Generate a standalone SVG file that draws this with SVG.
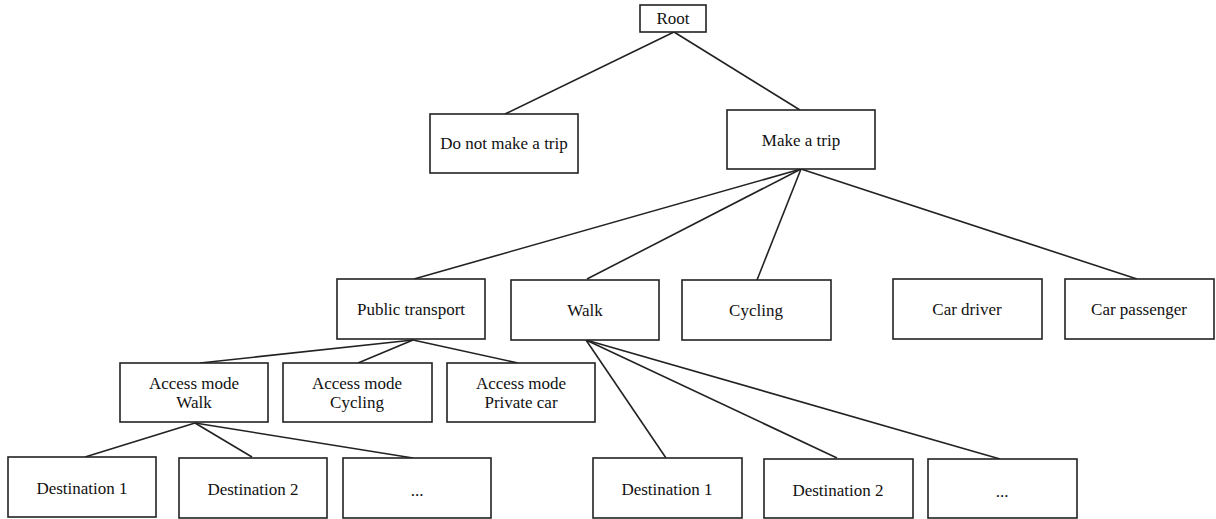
<svg xmlns="http://www.w3.org/2000/svg" width="1216" height="519" viewBox="0 0 1216 519">
<style>
rect{fill:#fff;stroke:#222;stroke-width:1.6}
line{stroke:#222;stroke-width:1.6}
text{font-family:"Liberation Serif","Times New Roman",serif;font-size:17px;fill:#111;text-anchor:middle}
</style>
<rect x="0" y="0" width="1216" height="519" style="fill:#fff;stroke:none"/>
<g id="connectors">
<line x1="674" y1="32" x2="505" y2="114"/>
<line x1="674" y1="32" x2="800" y2="110"/>
<line x1="801" y1="169" x2="414" y2="279"/>
<line x1="801" y1="169" x2="587" y2="279"/>
<line x1="801" y1="169" x2="757" y2="280"/>
<line x1="801" y1="169" x2="1137" y2="279"/>
<line x1="413" y1="340" x2="200" y2="363"/>
<line x1="413" y1="340" x2="358" y2="363"/>
<line x1="413" y1="340" x2="518" y2="363"/>
<line x1="195" y1="423" x2="85" y2="457"/>
<line x1="195" y1="423" x2="252" y2="457"/>
<line x1="195" y1="423" x2="413" y2="458"/>
<line x1="586" y1="340" x2="666" y2="458"/>
<line x1="586" y1="340" x2="837" y2="458"/>
<line x1="586" y1="340" x2="1000" y2="459"/>
</g>
<g id="root"><rect x="640" y="5" width="66" height="27"/><text x="673" y="24">Root</text></g>
<g id="no-trip"><rect x="430" y="114" width="148" height="59"/><text x="504" y="149">Do not make a trip</text></g>
<g id="trip"><rect x="727" y="110" width="148" height="59"/><text x="801" y="146">Make a trip</text></g>
<g id="public-transport"><rect x="337" y="279" width="148" height="60"/><text x="411" y="315">Public transport</text></g>
<g id="walk"><rect x="511" y="280" width="148" height="60"/><text x="585" y="316">Walk</text></g>
<g id="cycling"><rect x="682" y="280" width="149" height="60"/><text x="756" y="316">Cycling</text></g>
<g id="car-driver"><rect x="893" y="279" width="149" height="60"/><text x="967" y="315">Car driver</text></g>
<g id="car-passenger"><rect x="1065" y="279" width="149" height="60"/><text x="1139" y="315">Car passenger</text></g>
<g id="access-walk"><rect x="120" y="363" width="148" height="59"/><text x="194" y="389">Access mode</text><text x="194" y="408">Walk</text></g>
<g id="access-cycling"><rect x="283" y="363" width="149" height="59"/><text x="357" y="389">Access mode</text><text x="357" y="408">Cycling</text></g>
<g id="access-car"><rect x="447" y="363" width="148" height="59"/><text x="521" y="389">Access mode</text><text x="521" y="408">Private car</text></g>
<g id="pt-dest1"><rect x="8" y="457" width="148" height="60"/><text x="82" y="494">Destination 1</text></g>
<g id="pt-dest2"><rect x="179" y="458" width="148" height="60"/><text x="253" y="495">Destination 2</text></g>
<g id="pt-more"><rect x="343" y="458" width="148" height="60"/><text x="417" y="496">...</text></g>
<g id="walk-dest1"><rect x="593" y="458" width="149" height="60"/><text x="667" y="495">Destination 1</text></g>
<g id="walk-dest2"><rect x="764" y="459" width="149" height="59"/><text x="838" y="496">Destination 2</text></g>
<g id="walk-more"><rect x="928" y="459" width="149" height="59"/><text x="1002" y="497">...</text></g>
</svg>
